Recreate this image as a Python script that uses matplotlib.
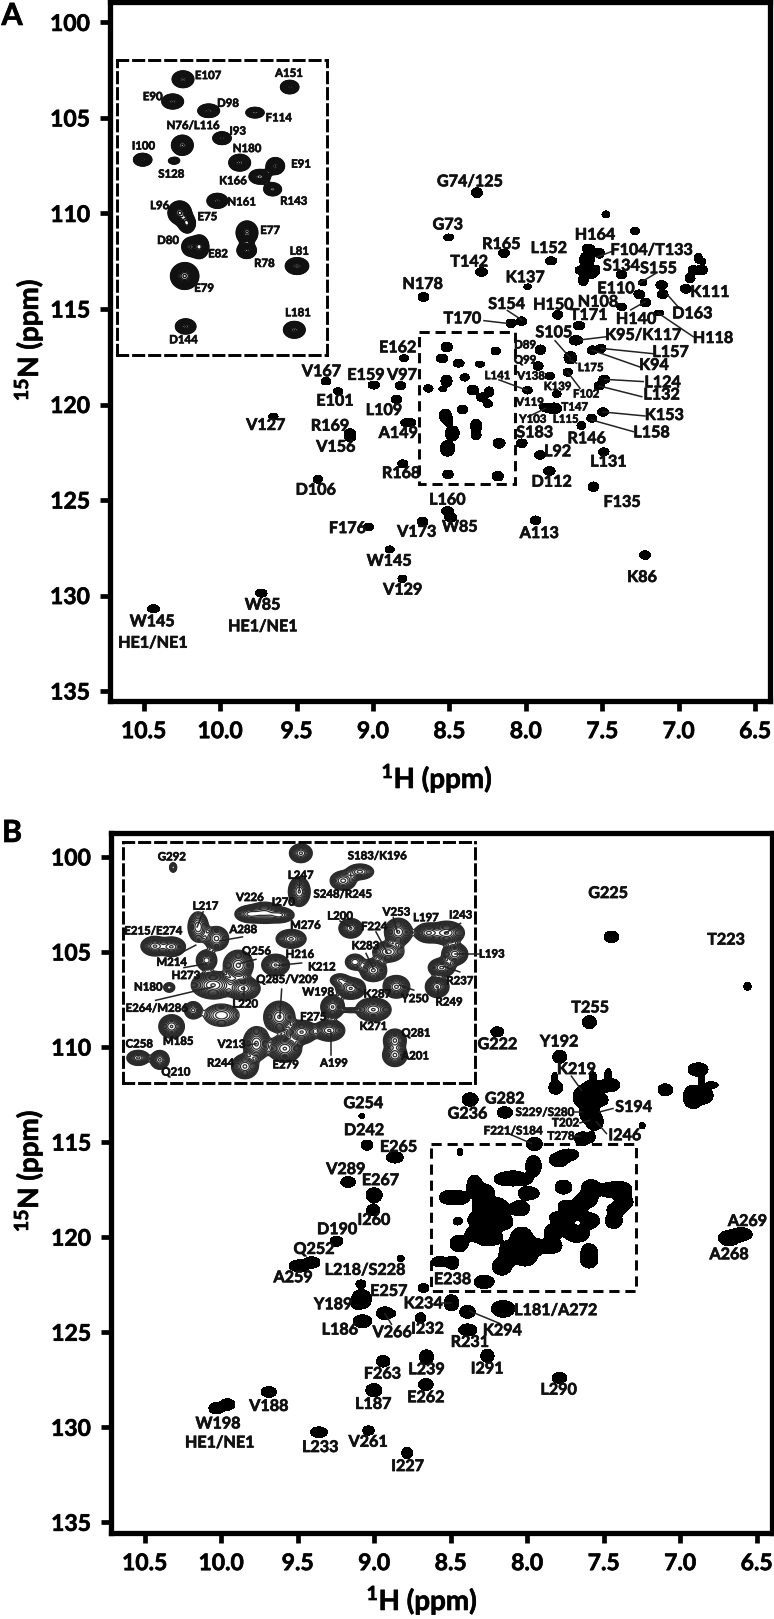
import numpy as np
import matplotlib
matplotlib.use("Agg")
import matplotlib.pyplot as plt
import matplotlib.patheffects as pe
from matplotlib.patches import Rectangle
from matplotlib.text import Text

plt.rcParams["font.family"] = ["Lato", "DejaVu Sans"]
plt.rcParams["font.weight"] = "bold"
plt.rcParams["mathtext.fontset"] = "custom"
plt.rcParams["mathtext.bf"] = "Lato:bold"
plt.rcParams["mathtext.rm"] = "Lato:bold"

W, H = 774, 1619

# ---- panel A, peaks outside the dashed box (1H, 15N, widths in ppm)
A_OUT_H = [8.32, 8.505, 8.143, 8.289, 7.835, 7.988, 8.67, 8.027, 8.097, 7.792, 7.652, 7.672, 7.905, 7.92, 7.844, 7.99,
           7.798, 7.726, 7.709, 7.87, 7.816, 7.637, 7.569, 7.495, 7.487, 7.519, 7.508, 7.565, 7.258, 7.373, 7.218,
           7.375, 7.236, 7.112, 7.105, 7.129, 6.953, 7.476, 7.286, 7.591, 7.519, 7.62, 7.576, 7.537, 7.635, 7.569,
           7.624, 6.872, 6.905, 6.85, 6.926, 6.843, 8.027, 7.907, 7.846, 7.491, 7.558, 8.797, 9.307, 8.995, 8.819,
           9.228, 8.845, 8.769, 9.651, 9.15, 9.15, 8.805, 9.361, 8.513, 8.492, 8.675, 7.936, 9.028, 8.891, 8.808,
           9.73, 10.436, 7.22]
A_OUT_N = [108.91, 111.25, 112.08, 113.06, 112.48, 113.83, 114.37, 115.64, 115.75, 115.31, 115.87, 116.64, 117.13,
           117.98, 118.51, 119.26, 119.45, 118.31, 117.55, 120.16, 120.2, 121.1, 120.72, 120.39, 118.68, 119.03,
           117.06, 117.16, 114.23, 114.89, 114.67, 113.2, 113.62, 113.74, 114.23, 115.21, 113.95, 110.04, 110.91,
           111.82, 112.08, 112.43, 112.43, 112.96, 112.96, 113.13, 113.48, 112.34, 112.96, 112.96, 113.39, 112.52,
           122.03, 122.64, 123.48, 122.48, 124.3, 117.58, 118.78, 118.98, 119.01, 119.31, 119.73, 120.95, 120.62,
           121.51, 121.72, 123.11, 123.91, 125.57, 125.92, 126.13, 126.06, 126.41, 127.58, 129.12, 129.87, 130.69,
           127.88]
A_OUT_WH = [.07, .065, .07, .078, .074, .05, .07, .065, .065, .065, .078, .087, .07, .065, .06, .065, .057, .06, .083,
            .078, .1, .057, .065, .07, .07, .07, .065, .065, .07, .065, .07, .07, .057, .074, .07, .057, .074, .052,
            .06, .083, .065, .057, .044, .044, .087, .065, .065, .052, .065, .074, .065, .04, .07, .07, .074, .07,
            .07, .06, .065, .074, .07, .06, .07, .1, .06, .074, .07, .065, .06, .078, .078, .07, .07, .065, .06,
            .057, .074, .078, .07]
A_OUT_WN = [.52, .35, .44, .45, .42, .28, .45, .45, .45, .45, .42, .49, .49, .45, .38, .38, .35, .42, .63, .45, .56,
            .42, .42, .45, .42, .42, .42, .45, .45, .38, .45, .42, .31, .45, .45, .31, .45, .35, .38, .42, .52, .7,
            .87, .52, .45, .52, .6, .52, .45, .52, .49, .31, .45, .45, .45, .42, .49, .38, .38, .42, .42, .38, .42,
            .45, .35, .49, .45, .42, .42, .45, .45, .45, .45, .38, .35, .38, .42, .42, .45]

# panel A, peaks in the expanded region
A_IN_H = [8.517, 8.548, 8.44, 8.301, 8.197, 8.519, 8.40, 8.638, 8.544, 8.347, 8.24, 8.287, 8.248, 8.414, 8.527, 8.505,
          8.497, 8.467, 8.325, 8.326, 8.175, 8.512, 8.509, 8.183]
A_IN_N = [116.99, 117.59, 117.84, 117.89, 117.2, 118.77, 118.58, 119.16, 119.19, 119.24, 119.33, 119.62, 119.96,
          120.27, 120.59, 120.88, 121.51, 121.51, 121.13, 121.61, 122.03, 122.3, 123.66, 123.75]
A_IN_WH = [.065, .065, .065, .06, .055, .065, .055, .055, .05, .065, .055, .07, .058, .062, .07, .05, .06, .055, .065,
           .058, .07, .085, .065, .065]
A_IN_WN = [.45, .40, .36, .31, .36, .54, .34, .34, .27, .45, .45, .43, .38, .40, .63, .5, .6, .63, .63, .43, .45, .72,
           .43, .45]
A_IN_AMP = [1, 1, 1, .7, 1, 1, 1, 1, .3, 1, 1, .7, .7, 1, 1, 1, .45, 1, 1, 1, 1, 1, .8, 1]

# panel A, large labels
A_LAB = ["G74/125", "G73", "R165", "T142", "L152", "K137", "N178", "S154", "T170", "H150", "T171", "S105", "H164",
         "F104/T133", "S134", "S155", "E110", "N108", "H140", "D163", "K111", "H118", "K95/K117", "L157", "K94",
         "L124", "L132", "K153", "L158", "R146", "L131", "L92", "D112", "S183", "E162", "V167", "E159", "V97",
         "E101", "L109", "A149", "R169", "V156", "V127", "R168", "D106", "L160", "F176", "V173", "W85", "A113",
         "W145", "V129", "W85", "HE1/NE1", "W145", "HE1/NE1", "K86", "F135"]
A_LAB_H = [8.365, 8.511, 8.16, 8.37, 7.849, 8.005, 8.675, 8.125, 8.415, 7.82, 7.589, 7.816, 7.548, 7.177, 7.375, 7.131,
           7.41, 7.528, 7.279, 6.911, 6.796, 6.776, 7.232, 7.053, 7.162, 7.105, 7.112, 7.094, 7.177, 7.602, 7.46,
           7.792, 7.831, 7.942, 8.838, 9.337, 9.045, 8.81, 9.248, 8.928, 8.834, 9.281, 9.242, 9.701, 8.816, 9.374,
           8.513, 9.167, 8.714, 8.431, 7.912, 8.893, 8.805, 9.721, 9.721, 10.443, 10.44, 7.24, 7.37]
A_LAB_N = [108.37, 110.63, 111.65, 112.57, 111.86, 113.39, 113.74, 114.79, 115.54, 114.82, 115.36, 116.27, 111.16,
           111.96, 112.78, 112.92, 113.97, 114.67, 115.57, 115.28, 114.16, 116.57, 116.41, 117.3, 117.98, 118.89,
           119.53, 120.6, 121.51, 121.82, 123.04, 122.5, 124.09, 121.51, 117.06, 118.31, 118.5, 118.5, 119.85,
           120.34, 121.54, 121.16, 122.26, 121.12, 123.64, 124.51, 125.03, 126.52, 126.71, 126.45, 126.78, 128.23,
           129.74, 130.53, 131.66, 131.4, 132.52, 129.08, 125.15]

# panel A, small labels
A_SMALL = ["D89", "Q99", "L141", "V138", "K139", "L175", "F102", "V119", "T147", "Y103", "L115"]
A_SMALL_H = [8.005, 8.005, 8.186, 7.966, 7.792, 7.576, 7.606, 7.973, 7.681, 7.955, 7.739]
A_SMALL_N = [116.88, 117.67, 118.49, 118.51, 119.06, 118.07, 119.45, 119.88, 120.13, 120.77, 120.77]

A_LINES = [(8.274, 115.61, 8.125, 115.75), (8.121, 115.08, 8.027, 115.57), (7.428, 111.96, 7.537, 112.29),
           (7.258, 113.65, 7.155, 113.16), (7.314, 115.05, 7.218, 114.61), (7.079, 114.21, 6.996, 114.96),
           (7.133, 115.22, 6.905, 116.45), (7.646, 116.62, 7.471, 116.45), (7.809, 116.66, 7.711, 117.55),
           (7.711, 117.67, 7.668, 117.84), (7.726, 118.31, 7.646, 119.15), (7.508, 117.06, 7.155, 117.35),
           (7.565, 117.16, 7.249, 118.05), (7.487, 118.68, 7.232, 118.8), (7.519, 119.03, 7.242, 119.59),
           (7.495, 120.39, 7.221, 120.6), (7.569, 120.81, 7.297, 121.42), (8.176, 118.71, 7.99, 119.26),
           (7.962, 120.55, 7.87, 120.2)]

# panel A inset labels
A_INS = ["E107", "A151", "E90", "D98", "F114", "N76/L116", "I93", "I100", "S128", "N180", "E91", "K166", "R143",
         "N161", "L96", "E75", "E77", "D80", "E82", "R78", "L81", "E79", "D144", "L181"]
A_INS_H = [8.442, 8.199, 8.608, 8.382, 8.23, 8.487, 8.353, 8.636, 8.552, 8.325, 8.163, 8.367, 8.185, 8.341, 8.587,
           8.444, 8.256, 8.562, 8.412, 8.273, 8.168, 8.454, 8.516, 8.172]
A_INS_N = [116.89, 116.83, 117.46, 117.64, 118.03, 118.24, 118.39, 118.79, 119.55, 118.86, 119.28, 119.73, 120.28,
           120.3, 120.4, 120.7, 121.07, 121.34, 121.7, 121.96, 121.63, 122.63, 124.02, 123.29]

# ---- panel B, peaks outside the expanded region
B_OUT_H = [7.593, 8.196, 7.787, 7.82, 7.813, 7.645, 7.57, 7.46, 7.471, 7.57, 7.536, 7.591, 7.558, 7.635, 7.58, 7.097,
           6.883, 6.862, 6.916, 6.84, 6.796, 7.249, 8.373, 8.146, 8.281, 8.678, 8.826, 9.087, 9.083, 9.115, 9.0,
           9.006, 9.17, 9.246, 9.49, 9.409, 9.076, 8.93, 8.887, 8.697, 8.495, 8.39, 8.157, 8.388, 8.26, 8.658, 8.941,
           8.662, 9.002, 7.789, 9.688, 10.03, 9.96, 9.361, 9.037, 8.784, 8.865, 9.047, 9.08, 7.45, 6.56, 6.68, 6.6]
B_OUT_N = [108.69, 109.2, 110.51, 111.6, 112.13, 112.62, 112.18, 112.0, 111.48, 111.57, 112.79, 113.5, 113.93, 114.81,
           114.72, 112.25, 111.18, 111.74, 112.62, 112.53, 112.0, 114.13, 112.76, 113.44, 122.35, 122.67, 121.12,
           122.46, 123.26, 123.49, 117.79, 118.58, 117.1, 120.21, 121.51, 121.33, 124.42, 124.0, 124.02, 124.24,
           123.45, 123.93, 123.77, 124.88, 126.24, 126.31, 126.53, 127.75, 128.05, 127.4, 128.14, 129.0, 128.8,
           130.26, 130.17, 131.35, 115.8, 115.16, 113.63, 104.2, 106.8, 120.05, 119.85]
B_OUT_WH = [.091, .083, .091, .04, .091, .11, .15, .13, .044, .044, .13, .13, .11, .11, .048, .096, .13, .04, .13, .11,
            .087, .04, .105, .1, .13, .07, .048, .065, .13, .065, .105, .087, .096, .083, .13, .11, .122, .11, .054,
            .07, .096, .1, .152, .118, .087, .091, .087, .096, .105, .096, .1, .1, .1, .11, .074, .07, .11, .078, .04,
            .096, .048, .14, .14]
B_OUT_WN = [.67, .53, .67, .53, .7, 1.05, .88, .7, .7, .53, .7, 1.05, .88, .7, .53, .63, .7, .7, 1.23, .88, .35, .35,
            .7, .6, .7, .46, .32, .42, 1.02, .53, .77, .6, .56, .53, .63, .6, .67, .67, .32, .53, .84, .67, .88, .63,
            .7, .77, .6, .63, .7, .56, .56, .6, .6, .56, .49, .6, .6, .53, .25, .6, .42, .8, .7]

# panel B, peaks in the expanded region
B_IN_H = [8.439, 7.953, 7.792, 7.728, 7.959, 8.147, 8.09, 8.033, 7.763, 7.99, 7.582, 7.468, 7.398, 8.344, 8.274, 8.509,
          8.445, 8.191, 8.049, 8.312, 7.62, 7.747, 7.804, 7.677, 7.367, 7.417, 7.434, 7.589, 7.763, 8.454, 8.287,
          8.172, 8.035, 7.832, 7.677, 7.766, 8.363, 8.255, 8.445, 7.95, 7.845, 7.595, 7.595, 8.122, 8.014, 8.572,
          8.49, 8.166]
B_IN_N = [115.53, 115.1, 115.93, 115.66, 116.26, 116.94, 116.9, 116.97, 117.37, 117.69, 117.48, 117.51, 117.51,
          117.33, 117.68, 117.91, 117.93, 118.49, 118.48, 118.34, 118.08, 118.39, 118.94, 118.64, 118.15, 118.56,
          119.14, 119.14, 119.19, 119.16, 119.09, 119.19, 120.05, 119.75, 119.83, 119.85, 119.85, 120.0, 120.34,
          120.51, 120.46, 120.76, 121.21, 120.86, 121.01, 121.29, 121.35, 121.55]
B_IN_WH = [.028, .076, .095, .10, .07, .10, .114, .095, .076, .10, .089, .089, .114, .076, .089, .089, .089, .10, .089,
           .07, .114, .076, .076, .089, .089, .089, .076, .089, .095, .044, .14, .108, .10, .076, .114, .063, .063,
           .14, .082, .10, .10, .076, .082, .089, .108, .076, .063, .089]
B_IN_WN = [.3, .5, .56, .45, .76, .45, .56, .40, .5, .5, .7, .5, .6, .9, .7, .5, .5, .8, .55, .55, .6, .5, .4, .6, .6,
           .5, .55, .6, .55, .3, .7, .6, .8, .6, .6, .15, .5, .7, .6, .6, .55, .6, .6, .9, .7, .4, .5, .65]
B_IN_AMP = [.35, .8, .5, .5, 1, .8, .8, .8, 1, .8, 1, 1, 1, .45, .5, 1, 1, .8, 1, .7, .5, .35, .35, .8, .7, .8, 1, .8,
            1, .35, 1, 1, 1, 1, 1, .3, .5, .35, 1, 1, 1, .8, .8, .8, 1, .8, .8, .8]

B_LAB = ["T255", "Y192", "G222", "K219", "G282", "G236", "S194", "I246", "E265", "D242", "G254", "G225", "T223", "A269",
         "A268", "V289", "E267", "I260", "D190", "Q252", "A259", "L218/S228", "E238", "E257", "Y189", "K234",
         "L181/A272", "L186", "V266", "I232", "K294", "R231", "I291", "L239", "F263", "L290", "E262", "L187", "V188",
         "L233", "V261", "I227", "W198", "HE1/NE1"]
B_LAB_H = [7.587, 7.791, 8.194, 7.678, 8.146, 8.39, 7.304, 7.362, 8.84, 9.066, 9.07, 7.47, 6.7, 6.56, 6.68, 9.185, 8.959,
           9.002, 9.242, 9.392, 9.529, 9.059, 8.488, 8.904, 9.268, 8.68, 7.813, 9.224, 8.882, 8.652, 8.162, 8.375,
           8.262, 8.658, 8.946, 7.794, 8.662, 9.006, 9.688, 9.353, 9.039, 8.782, 10.02, 10.01]
B_LAB_N = [107.97, 109.76, 109.9, 111.21, 112.76, 113.55, 113.2, 114.69, 115.3, 114.42, 113.0, 101.95, 104.4, 119.2,
           120.95, 116.47, 117.05, 119.14, 119.63, 120.67, 122.16, 121.77, 122.26, 122.88, 123.58, 123.53, 123.89,
           124.91, 125.05, 124.86, 124.95, 125.56, 126.96, 127.0, 127.23, 128.07, 128.47, 128.82, 128.93, 131.09,
           130.81, 132.09, 129.85, 130.85]

B_SMALL = ["S229/S280", "T202", "T278", "F221/S184"]
B_SMALL_H = [7.885, 7.75, 7.78, 8.092]
B_SMALL_N = [113.44, 113.99, 114.69, 114.41]

B_LINES = [(7.711, 111.53, 7.645, 112.27), (7.439, 113.23, 7.526, 113.41), (7.689, 113.44, 7.645, 113.44),
           (7.656, 113.99, 7.591, 113.85), (7.693, 114.69, 7.656, 114.69), (7.482, 114.55, 7.547, 113.93),
           (8.114, 114.58, 7.972, 115.07), (8.179, 124.54, 8.375, 123.89), (8.887, 124.58, 8.93, 124.02),
           (8.56, 123.46, 8.495, 123.46)]

B_INS = ["G292", "S183/K196", "L247", "S248/R245", "V226", "I270", "L217", "L200", "V253", "L197", "I243", "F224",
         "M276", "A288", "E215/E274", "K283", "Q256", "H216", "M214", "K212", "H273", "N180", "Q285/V209", "R237",
         "W198", "K287", "Y250", "R249", "L220", "E264/M286", "F275", "K271", "Q281", "C258", "M185", "V213", "A201",
         "R244", "A199", "E279", "Q210", "L193"]
B_INS_H = [8.444, 7.662, 7.954, 7.794, 8.147, 8.02, 8.316, 7.804, 7.589, 7.477, 7.345, 7.674, 7.936, 8.172, 8.515,
           7.707, 8.122, 7.957, 8.445, 7.873, 8.391, 8.534, 8.005, 7.348, 7.887, 7.662, 7.519, 7.389, 8.165, 8.502,
           7.906, 7.677, 7.515, 8.568, 8.42, 8.217, 7.518, 8.259, 7.827, 8.011, 8.429, 7.226]
B_INS_N = [115.21, 115.18, 115.77, 116.34, 116.44, 116.58, 116.7, 117.0, 116.88, 117.05, 116.97, 117.32, 117.28, 117.41,
           117.45, 117.9, 118.06, 118.16, 118.4, 118.54, 118.8, 119.15, 118.92, 118.96, 119.3, 119.36, 119.5, 119.6,
           119.66, 119.79, 120.05, 120.34, 120.54, 120.87, 120.79, 120.88, 121.23, 121.45, 121.45, 121.5, 121.72,
           118.15]
B_INS_LINES = [(8.325, 116.87, 8.348, 117.33), (8.175, 117.63, 8.261, 117.75), (8.426, 118.18, 8.353, 117.88),
               (8.124, 118.31, 8.188, 118.44), (7.95, 118.42, 8.039, 118.49), (8.398, 118.56, 8.312, 118.44),
               (8.506, 119.55, 8.287, 119.14), (8.17, 119.45, 8.17, 119.14), (8.026, 119.21, 8.033, 120.05),
               (7.705, 118.13, 7.677, 118.59), (7.667, 117.48, 7.624, 118.11), (7.601, 117.04, 7.586, 117.48),
               (7.345, 117.22, 7.405, 117.53), (7.367, 118.15, 7.274, 118.15), (7.348, 118.69, 7.411, 118.52),
               (7.43, 119.4, 7.43, 119.19), (7.523, 119.24, 7.578, 119.09), (7.718, 119.3, 7.756, 119.09),
               (7.804, 117.15, 7.764, 117.33), (7.957, 115.91, 7.959, 116.21), (8.166, 120.91, 8.122, 120.86),
               (7.837, 121.21, 7.837, 120.51)]

X_TICKS = [10.5, 10.0, 9.5, 9.0, 8.5, 8.0, 7.5, 7.0, 6.5]
Y_TICKS = [100, 105, 110, 115, 120, 125, 130, 135]

DASH = (0, (3.5, 2))


def add_axes_px(fig, left, top, right, bottom):
    return fig.add_axes([left / W, 1 - bottom / H, (right - left) / W, (bottom - top) / H])


def intensity(xlim, ylim, nx, ny, h, n, wh, wn, amp=None):
    # sum of gaussians, width is the full width at the lowest contour
    x = np.linspace(xlim[0], xlim[1], nx)
    y = np.linspace(ylim[0], ylim[1], ny)
    z = np.zeros((ny, nx))
    if amp is None:
        amp = np.ones(len(h))
    for a, b, c, d, e in zip(h, n, wh, wn, amp):
        gx = np.exp(-0.5 * ((x - a) / (c / 4.12)) ** 2)
        gy = np.exp(-0.5 * ((y - b) / (d / 4.12)) ** 2)
        z += e * np.outer(gy, gx)
    return x, y, z


def labels(ax, names, hs, ns, size):
    for name, a, b in zip(names, hs, ns):
        ax.text(a, b, name, fontsize=size, fontweight="bold", ha="center", va="center",
                color="#111111", clip_on=False, zorder=6)


def leader_lines(ax, lines):
    for x0, y0, x1, y1 in lines:
        ax.plot([x0, x1], [y0, y1], color="#222222", lw=1.1, zorder=5, clip_on=False)


def style_main(ax, xlim, ylim):
    ax.set_xlim(xlim)
    ax.set_ylim(ylim)
    ax.set_xticks(X_TICKS)
    ax.set_xticklabels([f"{t:.1f}" for t in X_TICKS])
    ax.set_yticks(Y_TICKS)
    ax.tick_params(length=7.5, width=3.4, labelsize=16.5, pad=7, color="black")
    for s in ax.spines.values():
        s.set_linewidth(3.8)


def draw_panel(ax, xlim, ylim, out, inner, box, widen):
    # the crowded centre is plotted at a lower contour in the full spectrum, so its peaks run together
    h = list(out[0]) + list(inner[0])
    n = list(out[1]) + list(inner[1])
    wh = list(out[2]) + [w * widen for w in inner[2]]
    wn = list(out[3]) + [w * widen for w in inner[3]]
    amp = [1] * len(out[0]) + [max(a, .7) for a in inner[4]]
    x, y, z = intensity(xlim, ylim, 1500, 1500, h, n, wh, wn, amp)
    ax.contourf(x, y, z, levels=[0.12, 1000], colors="black", zorder=2)
    ax.add_patch(Rectangle((box[0], box[2]), box[1] - box[0], box[3] - box[2], fill=False,
                           ec="black", lw=2.1, ls=DASH, zorder=4))


def draw_inset(fig, rect, xlim, ylim, inner, base, n_levels, color, lw):
    ax = add_axes_px(fig, *rect)
    ax.set_zorder(5)
    x, y, z = intensity(xlim, ylim, 900, 900, *inner)
    ax.contour(x, y, z, levels=np.geomspace(base, 0.97, n_levels), colors=color, linewidths=lw)
    ax.set_xlim(xlim)
    ax.set_ylim(ylim)
    ax.set_xticks([])
    ax.set_yticks([])
    for s in ax.spines.values():
        s.set_linewidth(2.1)
        s.set_linestyle(DASH)
    return ax


fig = plt.figure(figsize=(W / 100, H / 100), dpi=100)

# panel A
xlim_a = (10.72, 6.403)
ylim_a = (135.52, 98.93)
ax_a = add_axes_px(fig, 110, 2, 770, 701)
draw_panel(ax_a, xlim_a, ylim_a, (A_OUT_H, A_OUT_N, A_OUT_WH, A_OUT_WN),
           (A_IN_H, A_IN_N, A_IN_WH, A_IN_WN, A_IN_AMP), (8.70, 8.07, 116.2, 124.16), 1.12)
style_main(ax_a, xlim_a, ylim_a)
labels(ax_a, A_LAB, A_LAB_H, A_LAB_N, 11.6)
labels(ax_a, A_SMALL, A_SMALL_H, A_SMALL_N, 8.2)
leader_lines(ax_a, A_LINES)

ins_a = draw_inset(fig, (117, 60, 327, 355), (8.715, 8.085), (124.43, 116.47),
                   (A_IN_H, A_IN_N, A_IN_WH, A_IN_WN, A_IN_AMP), 0.12, 20, "#111111", 1.0)
labels(ins_a, A_INS, A_INS_H, A_INS_N, 8.2)

# panel B
xlim_b = (10.72, 6.40)
ylim_b = (135.56, 98.74)
ax_b = add_axes_px(fig, 111, 833, 772, 1533)
draw_panel(ax_b, xlim_b, ylim_b, (B_OUT_H, B_OUT_N, B_OUT_WH, B_OUT_WN),
           (B_IN_H, B_IN_N, B_IN_WH, B_IN_WN, B_IN_AMP), (8.63, 7.29, 115.1, 122.84), 1.45)
style_main(ax_b, xlim_b, ylim_b)
labels(ax_b, B_LAB, B_LAB_H, B_LAB_N, 11.6)
labels(ax_b, B_SMALL, B_SMALL_H, B_SMALL_N, 8.4)
leader_lines(ax_b, B_LINES)

ins_b = draw_inset(fig, (123, 842, 475, 1083), (8.63, 7.29), (122.05, 114.76),
                   (B_IN_H, B_IN_N, B_IN_WH, B_IN_WN, B_IN_AMP), 0.05, 13, "#2a2a2a", 0.9)
labels(ins_b, B_INS, B_INS_H, B_INS_N, 8.2)
leader_lines(ins_b, B_INS_LINES)

# axis titles and panel letters
fig.text(437 / W, 1 - 778 / H, r"$\mathbf{^{1}H}$ (ppm)", fontsize=20, ha="center", va="center")
fig.text(422 / W, 1 - 1600 / H, r"$\mathbf{^{1}H}$ (ppm)", fontsize=20, ha="center", va="center")
fig.text(28 / W, 1 - 340 / H, r"$\mathbf{^{15}N}$ (ppm)", fontsize=20, rotation=90, ha="center", va="center")
fig.text(28 / W, 1 - 1171 / H, r"$\mathbf{^{15}N}$ (ppm)", fontsize=20, rotation=90, ha="center", va="center")
fig.text(12 / W, 1 - 16 / H, "A", fontsize=22, ha="center", va="center")
fig.text(12 / W, 1 - 833 / H, "B", fontsize=22, ha="center", va="center")

# the reference type is heavier than the bold face available here
for t in fig.findobj(Text):
    t.set_path_effects([pe.withStroke(linewidth=0.5, foreground="#111111")])

fig.savefig("out.png", dpi=100)
